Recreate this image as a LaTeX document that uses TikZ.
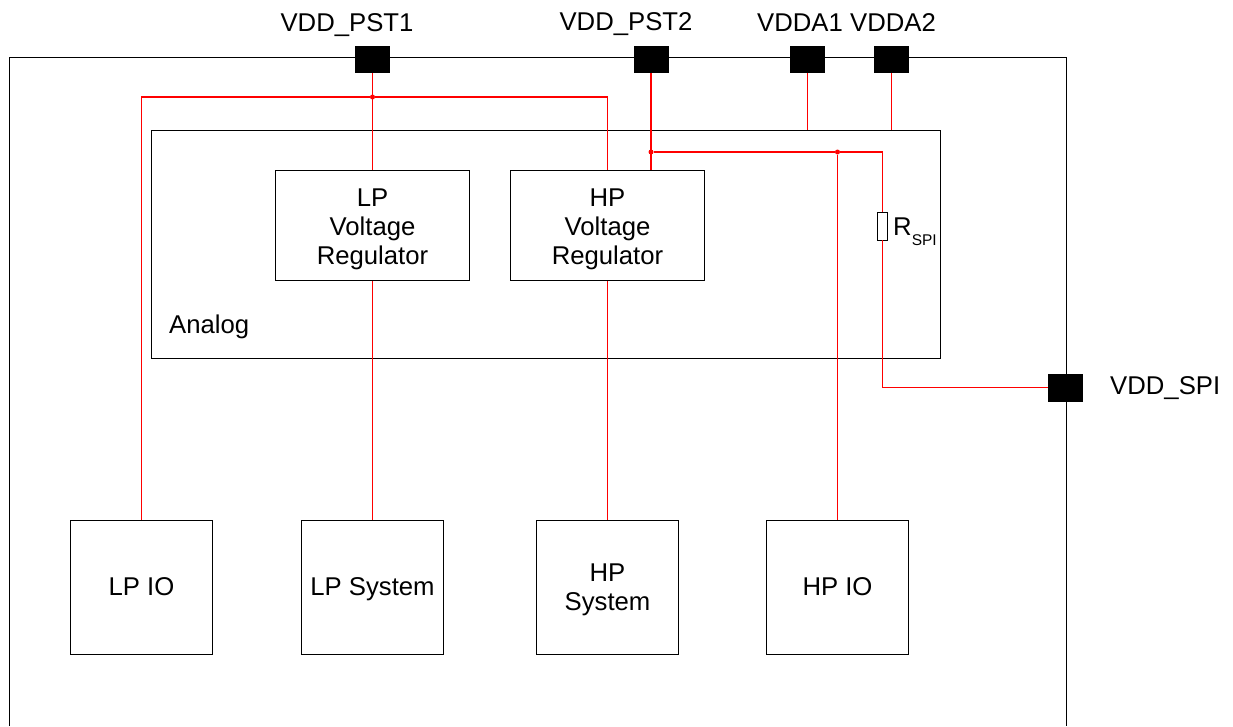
\documentclass[tikz,border=0pt]{standalone}
\usepackage{fontspec}
\setmainfont{Liberation Sans}
\tikzset{
  pad/.style={fill=black,minimum width=35pt,minimum height=27.5pt,inner sep=0pt},
  block/.style={draw=black,line width=0.9pt,inner sep=0pt},
  regbox/.style={block,minimum width=194.5pt,minimum height=110.5pt},
  loadbox/.style={block,minimum width=142.5pt,minimum height=134pt},
  boxtext/.style={inner sep=0pt,align=center,text depth=0pt},
  label/.style={inner sep=0pt,anchor=base},
  wire/.style={red,line width=1.3pt},
  jct/.style={circle,fill=red,minimum size=5pt,inner sep=0pt}
}
\begin{document}
\begin{tikzpicture}[x=1pt,y=-1pt,every node/.append style={font=\fontsize{25.7}{28.7}\selectfont}]
\useasboundingbox (0,0) rectangle (1233,726);

% chip outline, open at the bottom
\draw[line width=0.9pt] (9,726) -- (9,57.5) -- (1066,57.5) -- (1066,726);

% analog block
\node[block,minimum width=789.5pt,minimum height=228pt] (analog) at (546,244) {};
\node[inner sep=0pt,anchor=base west] (analogtxt) at (169,333) {Analog};

% pads
\node[pad] (pst1) at (372.5,59.5) {};
\node[pad] (pst2) at (651,59.5) {};
\node[pad] (vdda1) at (807.5,59.5) {};
\node[pad] (vdda2) at (891.5,59.5) {};
\node[pad] (spi) at (1065.5,388) {};
\node[label] (pst1txt) at (347,31) {VDD\_PST1};
\node[label] (pst2txt) at (626,30) {VDD\_PST2};
\node[label] (vdda1txt) at (800,31) {VDDA1};
\node[label] (vdda2txt) at (893,31) {VDDA2};
\node[inner sep=0pt,anchor=base west] (spitxt) at (1110,394) {VDD\_SPI};

% regulators
\node[regbox] (lpreg) at (372.5,225.5) {};
\node[regbox] (hpreg) at (607.5,225.5) {};
\node[boxtext] (lpregtxt) at (372.5,226.5) {LP\\Voltage\\Regulator};
\node[boxtext] (hpregtxt) at (607.5,226.5) {HP\\Voltage\\Regulator};

% loads
\node[loadbox] (lpio) at (141.5,587) {};
\node[loadbox] (lpsys) at (372.5,587) {};
\node[loadbox] (hpsys) at (607.5,587) {};
\node[loadbox] (hpio) at (837.5,587) {};
\node[boxtext] (lpiotxt) at (141.5,587) {LP IO};
\node[boxtext] (lpsystxt) at (372.5,587) {LP System};
\node[boxtext] (hpsystxt) at (607.5,587) {HP\\System};
\node[boxtext] (hpiotxt) at (837.5,587) {HP IO};

% resistor
\node[draw=black,line width=0.8pt,minimum width=9.5pt,minimum height=28pt,inner sep=0pt] (rspi) at (882.5,226) {};
\node[inner sep=0pt,anchor=base west] (rspitxt) at (893,235) {R\raisebox{-10pt}{\fontsize{15.5}{15.5}\selectfont SPI}};

% junctions
\node[jct] (j1) at (372.5,97) {};
\node[jct] (j2) at (651,152) {};
\node[jct] (j3) at (837.5,152) {};
\coordinate (a1) at (141.5,97);
\coordinate (a2) at (607.5,97);
\coordinate (a3) at (882.5,152);
\coordinate (a4) at (882.5,387.5);

% supply wires
\draw[wire] (pst1) -- (lpreg);
\draw[wire] (j1) -- (a1) -- (lpio);
\draw[wire] (j1) -- (a2) -- (hpreg);
\draw[wire] (pst2.south) -- (pst2.south |- hpreg.north);
\draw[wire] (j2) -- (j3) -- (a3) -- (rspi);
\draw[wire] (j3) -- (hpio);
\draw[wire] (rspi) -- (a4) -- (spi.west |- a4);
\draw[wire] (vdda1) -- (vdda1 |- analog.north);
\draw[wire] (vdda2) -- (vdda2 |- analog.north);
\draw[wire] (lpreg) -- (lpsys);
\draw[wire] (hpreg) -- (hpsys);

\end{tikzpicture}
\end{document}
